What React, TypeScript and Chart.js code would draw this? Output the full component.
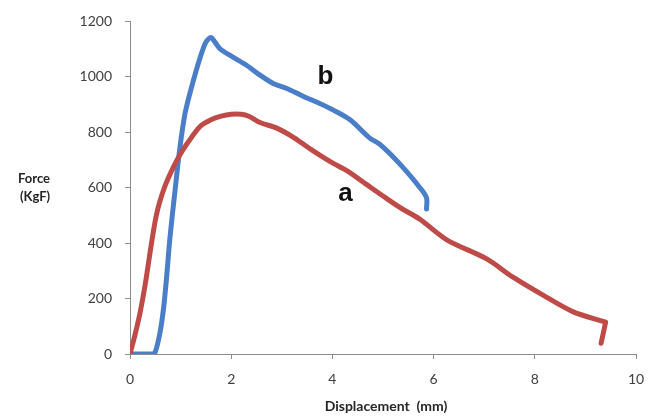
import React, { useEffect, useRef } from "react";
import { Chart, registerables } from "chart.js";

Chart.register(...registerables);

const xTicks = [0, 2, 4, 6, 8, 10];
const yTicks = [0, 200, 400, 600, 800, 1000, 1200];

const dispA = [0, 0.1, 0.2, 0.3, 0.4, 0.46, 0.52, 0.59, 0.7, 0.86, 0.99, 1.12, 1.38, 1.6, 1.8, 2.0, 2.2, 2.35, 2.57, 2.9, 3.23, 3.56, 3.95, 4.3, 4.68, 5.0, 5.34, 5.73, 6.26, 7.05, 7.57, 8.23, 8.76, 9.4, 9.4, 9.31];
const forceA = [0, 70, 150, 250, 370, 440, 500, 550, 610, 675, 720, 757, 820, 845, 858, 865, 865, 858, 835, 815, 782, 740, 695, 660, 611, 570, 528, 486, 412, 343, 277, 205, 152, 115, 115, 39];

const dispB = [0, 0.43, 0.5, 0.59, 0.66, 0.72, 0.79, 0.89, 0.99, 1.09, 1.22, 1.38, 1.5, 1.6, 1.68, 1.78, 1.98, 2.31, 2.57, 2.83, 3.1, 3.42, 3.75, 4.02, 4.35, 4.74, 4.94, 5.34, 5.73, 5.86, 5.86];
const forceB = [0, 0, 8, 75, 160, 270, 420, 590, 750, 870, 965, 1066, 1125, 1142, 1125, 1101, 1077, 1041, 1006, 976, 958, 930, 904, 880, 845, 779, 756, 684, 600, 564, 523];

const seriesNames = ["a", "b"];

const toPoints = (xs: number[], ys: number[]) => xs.map((x, i) => ({ x, y: ys[i] }));

export default function App() {
  const ref = useRef<HTMLCanvasElement | null>(null);
  useEffect(() => {
    if (!ref.current) return;
    const textPlugin = {
      id: "texts",
      afterDraw(chart: any) {
        const ctx = chart.ctx;
        ctx.save();
        ctx.fillStyle = "#262626";
        ctx.textAlign = "center";
        ctx.textBaseline = "middle";
        ctx.font = "bold 13px Lato, 'Liberation Sans', sans-serif";
        ctx.fillText("Force", 34, 179);
        ctx.fillText("(KgF)", 35, 197);
        ctx.font = "bold 14px Lato, 'Liberation Sans', sans-serif";
        ctx.fillText("Displacement  (mm)", 386, 406);
        ctx.fillStyle = "#111111";
        ctx.font = "bold 26px 'Liberation Sans', Arial, sans-serif";
        const xs = chart.scales.x;
        const ys = chart.scales.y;
        ctx.fillText(seriesNames[1], xs.getPixelForValue(3.86), ys.getPixelForValue(1000));
        ctx.fillText(seriesNames[0], xs.getPixelForValue(4.26), ys.getPixelForValue(577));
        ctx.restore();
      },
    };
    const fontFam = "Lato, 'Liberation Sans', sans-serif";
    const chart = new Chart(ref.current, {
      type: "scatter",
      data: {
        datasets: [
          {
            label: seriesNames[0],
            data: toPoints(dispA, forceA),
            showLine: true,
            borderColor: "#be4b48",
            borderWidth: 5,
            pointRadius: 0,
            tension: 0.3,
            borderCapStyle: "round",
            borderJoinStyle: "round",
          },
          {
            label: seriesNames[1],
            data: toPoints(dispB, forceB),
            showLine: true,
            borderColor: "#4a7ec9",
            borderWidth: 5,
            pointRadius: 0,
            tension: 0.3,
            borderCapStyle: "round",
            borderJoinStyle: "round",
          },
        ],
      },
      options: {
        responsive: false,
        animation: false,
        layout: { padding: { left: 0, top: 19, right: 29, bottom: 0 } },
        plugins: { legend: { display: false }, tooltip: { enabled: false } },
        scales: {
          x: {
            type: "linear",
            min: 0,
            max: 10,
            afterFit: (s: any) => { s.height = 62; },
            afterBuildTicks: (s: any) => { s.ticks = xTicks.map((v) => ({ value: v })); },
            border: { color: "#8c8c8c", width: 1 },
            grid: { drawOnChartArea: false, drawTicks: true, tickLength: 5, color: "#8c8c8c" },
            ticks: { color: "#404040", padding: 12, maxRotation: 0, callback: (v: any) => String(v), font: { family: fontFam, size: 14 } },
          },
          y: {
            type: "linear",
            min: 0,
            max: 1200,
            afterFit: (s: any) => { s.width = 130; },
            afterBuildTicks: (s: any) => { s.ticks = yTicks.map((v) => ({ value: v })); },
            border: { color: "#8c8c8c", width: 1 },
            grid: { drawOnChartArea: false, drawTicks: true, tickLength: 5, color: "#8c8c8c" },
            ticks: { color: "#404040", padding: 13, callback: (v: any) => String(v), font: { family: fontFam, size: 14 } },
          },
        },
      },
      plugins: [textPlugin],
    } as any);
    return () => chart.destroy();
  }, []);
  return (
    <div style={{ position: "fixed", left: 0, top: 0, width: 665, height: 416, background: "#fff" }}>
      <canvas ref={ref} width={665} height={416} style={{ display: "block" }} />
    </div>
  );
}
